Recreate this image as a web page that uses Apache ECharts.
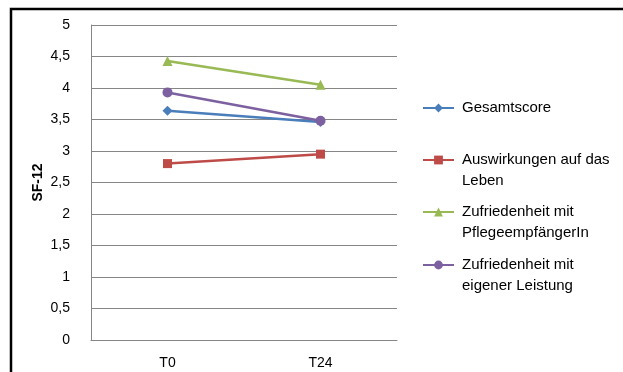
<!DOCTYPE html>
<html>
<head>
<meta charset="utf-8">
<script src="https://cdn.jsdelivr.net/npm/echarts@6/dist/echarts.min.js"></script>
<style>html,body{margin:0;padding:0;background:#fff}#c{width:623px;height:372px}</style>
</head>
<body>
<div id="c"></div>
<script>
const categories = ['T0', 'T24'];
const seriesNames = ['Gesamtscore', 'Auswirkungen auf das Leben', 'Zufriedenheit mit PflegeempfängerIn', 'Zufriedenheit mit eigener Leistung'];
const legendLines = [['Gesamtscore'], ['Auswirkungen auf das', 'Leben'], ['Zufriedenheit mit', 'PflegeempfängerIn'], ['Zufriedenheit mit', 'eigener Leistung']];
const gesamtscore = [3.64, 3.46];
const auswirkungen = [2.80, 2.95];
const zufriedenPflege = [4.43, 4.05];
const zufriedenLeistung = [3.93, 3.48];
const yTicks = [0, 0.5, 1, 1.5, 2, 2.5, 3, 3.5, 4, 4.5, 5];

const colors = ['#4A7EBB', '#BE4B48', '#98B954', '#7D60A0'];
const symbols = ['diamond', 'rect', 'triangle', 'circle'];
const symbolSizes = [10, 9, 10, 10];
const values = [gesamtscore, auswirkungen, zufriedenPflege, zufriedenLeistung];
const font = 'Liberation Sans';
const legendTops = [108, 160, 212, 265];

const chart = echarts.init(document.getElementById('c'));
chart.setOption({
  animation: false,
  graphic: [{
    type: 'rect', shape: {x: 11, y: 9, width: 700, height: 500},
    style: {fill: 'none', stroke: '#000', lineWidth: 2.5}, z: 10
  }],
  grid: {left: 91, top: 25, right: 226, bottom: 32},
  legend: seriesNames.map((n, i) => ({
    orient: 'vertical', left: 422, padding: 0, top: legendTops[i] - (legendLines[i].length === 1 ? 10.5 : 31.5),
    itemWidth: 31, itemHeight: 11, itemGap: 0, data: [n],
    formatter: () => legendLines[i].length === 1 ? legendLines[i][0] : '\n' + legendLines[i].join('\n'),
    textStyle: {fontFamily: font, fontSize: 15, color: '#000', lineHeight: 21, padding: [0, 0, 0, 3]}
  })),
  xAxis: {
    type: 'category', data: categories, boundaryGap: true,
    axisLine: {lineStyle: {color: '#868686', width: 1}},
    axisTick: {show: false},
    axisLabel: {fontFamily: font, fontSize: 14, color: '#000', margin: 16}
  },
  yAxis: {
    type: 'value', min: yTicks[0], max: yTicks[yTicks.length - 1], interval: 0.5,
    name: 'SF-12', nameLocation: 'middle', nameGap: 46,
    nameTextStyle: {fontFamily: font, fontSize: 14, fontWeight: 'bold', color: '#000'},
    axisLine: {show: true, lineStyle: {color: '#868686', width: 1}},
    axisTick: {show: false},
    splitLine: {lineStyle: {color: '#868686', width: 1}},
    axisLabel: {fontFamily: font, fontSize: 14, color: '#000', margin: 21,
      formatter: v => String(v).replace('.', ',')}
  },
  series: seriesNames.map((n, i) => ({
    name: n, type: 'line', data: values[i],
    symbol: symbols[i], symbolSize: symbolSizes[i],
    lineStyle: {color: colors[i], width: 2.5},
    itemStyle: {color: colors[i]}
  }))
});
</script>
</body>
</html>
